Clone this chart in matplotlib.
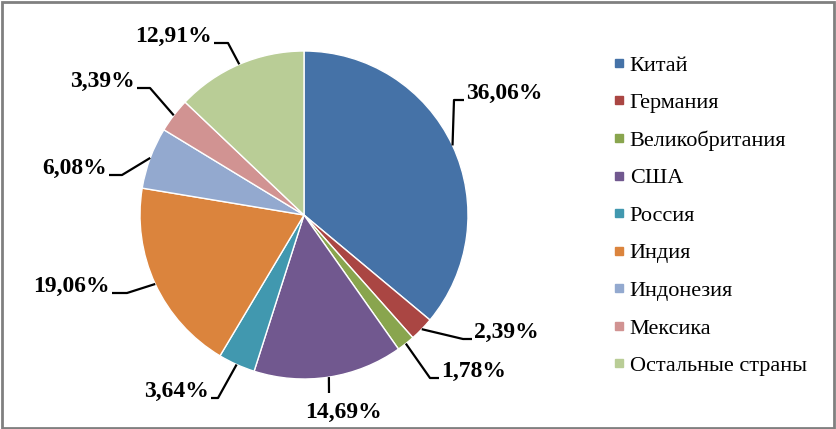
import matplotlib.pyplot as plt
from matplotlib.lines import Line2D
from matplotlib.patches import Rectangle
import numpy as np

# ---------------------------------------------------
# DATA
# ---------------------------------------------------

countries = ["Китай", "Германия", "Великобритания", "США", "Россия",
             "Индия", "Индонезия", "Мексика", "Остальные страны"]
shares = [36.06, 2.39, 1.78, 14.69, 3.64, 19.06, 6.08, 3.39, 12.91]
colors = ["#4572A7", "#AA4643", "#89A54E", "#71588F", "#4198AF",
          "#DB843D", "#93A9CF", "#D19392", "#B9CD96"]

# label layout in pixels: (elbow x, elbow y, line end x, text side)
label_layout = [
    (454, 100, 464, "left"),
    (463, 339, 472, "left"),
    (430, 378, 439, "left"),
    (329, 393, 329, "below"),
    (218, 398, 211, "right"),
    (127, 293, 112, "right"),
    (122, 175, 109, "right"),
    (150, 88, 137, "right"),
    (228, 43, 214, "right"),
]

W, H = 837, 429
cx, cy, r = 304, 215, 164

# ---------------------------------------------------
# FIGURE
# ---------------------------------------------------

fig = plt.figure(figsize=(W / 100, H / 100), dpi=100)
ax = fig.add_axes([0, 0, 1, 1])

wedges, _ = ax.pie(
    shares,
    colors=colors,
    startangle=90,
    counterclock=False,
    center=(cx, H - cy),
    radius=r,
    wedgeprops=dict(edgecolor="white", linewidth=1)
)

ax.set_xlim(0, W)
ax.set_ylim(0, H)
ax.set_aspect("auto")
ax.axis("off")

# ---------------------------------------------------
# LABELS WITH LEADER LINES
# ---------------------------------------------------

for w, val, (ex, ey, lx, side) in zip(wedges, shares, label_layout):
    ang = np.deg2rad((w.theta1 + w.theta2) / 2)
    px = cx + r * np.cos(ang)
    py = (H - cy) + r * np.sin(ang)
    ax.plot([px, ex, lx], [py, H - ey, H - ey], color="black", lw=1.6,
            solid_capstyle="butt")
    txt = f"{val:.2f}%".replace(".", ",")
    if side == "left":
        ax.text(lx + 2, H - ey + 1, txt, ha="left", va="baseline")
    elif side == "right":
        ax.text(lx - 2, H - ey + 1, txt, ha="right", va="baseline")
    else:
        ax.text(lx + 15, H - ey - 9, txt, ha="center", va="top")

for t in ax.texts:
    t.set_fontfamily("Liberation Serif")
    t.set_fontweight("bold")
    t.set_fontsize(17)

# ---------------------------------------------------
# LEGEND
# ---------------------------------------------------

handles = [Line2D([], [], marker="s", linestyle="none", markersize=6,
                  markerfacecolor=c, markeredgecolor=c) for c in colors]
leg = ax.legend(
    handles,
    countries,
    loc="upper left",
    bbox_to_anchor=(602 / W, 1 - 44 / H),
    frameon=False,
    prop={"family": "Liberation Serif", "size": 16},
    handlelength=0.55,
    handletextpad=0.2,
    labelspacing=0.765,
    borderpad=0,
)

# ---------------------------------------------------
# BORDER
# ---------------------------------------------------

fig.patches.append(Rectangle((0.002, 0.003), 0.995, 0.993,
                             transform=fig.transFigure, fill=False,
                             edgecolor="#808080", linewidth=2))

plt.savefig("out.png", dpi=100)
